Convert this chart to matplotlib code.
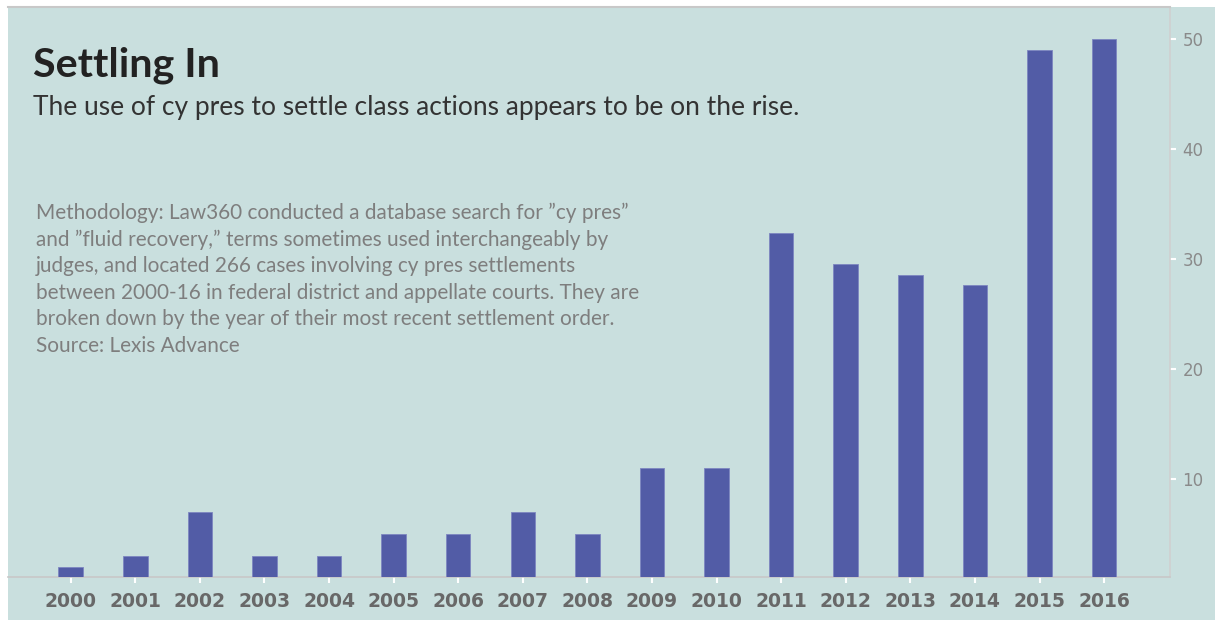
import matplotlib
matplotlib.use("Agg")
import matplotlib.pyplot as plt

years = ["2000", "2001", "2002", "2003", "2004", "2005", "2006", "2007", "2008",
         "2009", "2010", "2011", "2012", "2013", "2014", "2015", "2016"]
cases = [2, 3, 7, 3, 3, 5, 5, 7, 5, 11, 11, 32.4, 29.5, 28.5, 27.6, 49, 50]
yticks = [10, 20, 30, 40, 50]

title = "Settling In"
subtitle = "The use of cy pres to settle class actions appears to be on the rise."
note_lines = [
    "Methodology: Law360 conducted a database search for \u201dcy pres\u201d",
    "and \u201dfluid recovery,\u201d terms sometimes used interchangeably by",
    "judges, and located 266 cases involving cy pres settlements",
    "between 2000-16 in federal district and appellate courts. They are",
    "broken down by the year of their most recent settlement order.",
    "Source: Lexis Advance",
]

BG = "#c9dfde"
BAR = "#525ca6"

W, H = 1215, 620
fig = plt.figure(figsize=(W / 100, H / 100), dpi=100, facecolor="white")
ax = fig.add_axes([8 / W, 43 / H, (1170 - 8) / W, (577 - 7) / H])
ax.set_facecolor(BG)

x = list(range(len(years)))
ax.bar(x, cases, width=0.38, color=BAR, edgecolor="#7d86c0", linewidth=0.6, zorder=3)

ax.set_xlim(-0.97, len(years) - 1 + 1.02)
ax.set_ylim(1.1, 52.9)

ax.set_xticks(x)
ax.set_xticklabels(years, fontsize=13.5, fontweight="bold", color="#686868", family="DejaVu Sans")
ax.set_yticks(yticks)
ax.set_yticklabels([str(v) for v in yticks], fontsize=12, color="#8a8a8a", family="DejaVu Sans")
ax.yaxis.tick_right()
ax.tick_params(axis="x", length=4, width=1.5, color="white", pad=7)
ax.tick_params(axis="y", length=4, width=1.5, color="white", pad=5, direction="out")

ax.spines["left"].set_visible(False)
ax.spines["right"].set_color("#d0d0d0")
ax.spines["right"].set_linewidth(1.2)
ax.spines["bottom"].set_color("#c8c8c8")
ax.spines["bottom"].set_linewidth(1.2)
ax.spines["top"].set_color("#c8c8c8")
ax.spines["top"].set_linewidth(1.5)

# extend teal background to the right and bottom edges
fig.patches.append(plt.Rectangle((1170 / W, 0), 1 - 1170 / W, 1 - 7 / H,
                                 transform=fig.transFigure, facecolor=BG, zorder=-1))
fig.patches.append(plt.Rectangle((8 / W, 0), (1170 - 8) / W, 43 / H,
                                 transform=fig.transFigure, facecolor=BG, zorder=-1))


def fit(t, target_px):
    fig.canvas.draw()
    bb = t.get_window_extent(renderer=fig.canvas.get_renderer())
    t.set_fontsize(t.get_fontsize() * target_px / bb.width)


t1 = fig.text(33 / W, 1 - 77 / H, title, fontsize=27, fontweight="bold",
              color="#222222", family="Lato", va="baseline")
fit(t1, 186)
t2 = fig.text(33 / W, 1 - 115 / H, subtitle, fontsize=17, color="#333333",
              family="Lato", va="baseline")
fit(t2, 762)

note_objs = []
for i, line in enumerate(note_lines):
    t = fig.text(36 / W, 1 - (219 + i * 26.6) / H, line, fontsize=11, color="#7e7e7e",
                 family="Lato", va="baseline")
    note_objs.append(t)
fit(note_objs[0], 594)
for t in note_objs[1:]:
    t.set_fontsize(note_objs[0].get_fontsize())

fig.savefig("out.png", dpi=100, facecolor="white")
